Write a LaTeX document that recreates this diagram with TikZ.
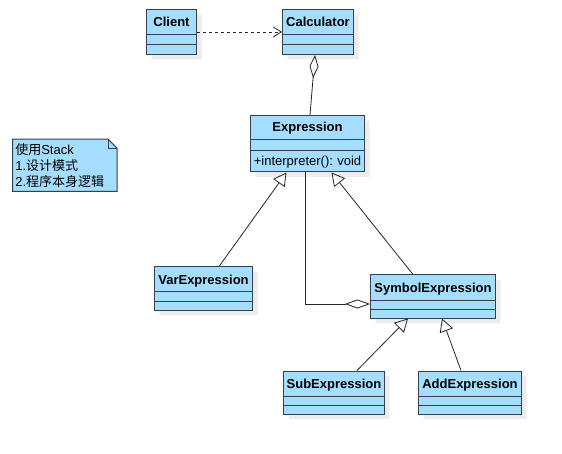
\documentclass[tikz,border=0pt]{standalone}
\usepackage{fontspec}
\setmainfont{Liberation Sans}
\newfontfamily\cjk{Noto Sans CJK SC}
\usetikzlibrary{arrows.meta,positioning,shapes.multipart,shadows,backgrounds}
\definecolor{classfill}{RGB}{164,221,253}
\definecolor{classline}{RGB}{52,64,76}
\definecolor{shadowgray}{RGB}{236,236,236}
\newcommand{\hdstrut}{\rule[-7.5pt]{0pt}{24pt}}
\newcommand{\rowstrut}{\rule{0pt}{9pt}}
\newcommand{\lowstrut}{\rule{0pt}{8pt}}

\begin{document}
\begin{tikzpicture}[x=1pt,y=-1pt,>={Straight Barb[length=8pt,width=10pt]},
  class node/.style={rectangle split,rectangle split parts=3,draw=classline,fill=classfill,line width=1pt,inner xsep=0pt,inner ysep=0pt,align=center,font=\fontsize{13}{15}\selectfont\frenchspacing,drop shadow={shadow xshift=5pt,shadow yshift=-5pt,fill=shadowgray,opacity=1}},
  note node/.style={text width=99pt,minimum height=52pt,inner xsep=2.5pt,align=left,font=\fontsize{13}{16}\selectfont},
  conn/.style={draw=black!85,line width=0.8pt},
  inherit/.style={conn,-{Triangle[open,length=13pt,width=14pt]}}]

  \useasboundingbox (0,0) rectangle (562,454);

  \node[class node,text width=50pt,anchor=north west] (client) at (146,9) {\hdstrut\textbf{Client}\nodepart{two}\rowstrut\nodepart{three}\rowstrut};
  \node[class node,text width=71pt] (calc) [right=85pt of client] {\hdstrut\textbf{Calculator}\nodepart{two}\rowstrut\nodepart{three}\rowstrut};
  \node[class node,text width=114pt] (expr) [below=60pt of calc,xshift=-10.5pt] {\rule[-7.5pt]{0pt}{23pt}\textbf{Expression}\nodepart{two}\rule{0pt}{10pt}\nodepart{three}\rule[-6pt]{0pt}{20.5pt}+interpreter(): void};
  \node[class node,text width=98pt] (var) [below=94pt of expr,xshift=-104pt] {\hdstrut\textbf{VarExpression}\nodepart{two}\lowstrut\nodepart{three}\lowstrut};
  \node[class node,text width=125pt] (sym) [below=102pt of expr,xshift=125.5pt] {\hdstrut\textbf{SymbolExpression}\nodepart{two}\lowstrut\nodepart{three}\lowstrut};
  \node[class node,text width=101pt] (sub) [below=52pt of sym,xshift=-99pt] {\hdstrut\textbf{SubExpression}\nodepart{two}\lowstrut\nodepart{three}\lowstrut};
  \node[class node,text width=103pt] (add) [right=33pt of sub] {\hdstrut\textbf{AddExpression}\nodepart{two}\lowstrut\nodepart{three}\lowstrut};

  % note with folded corner
  \node[note node] (note) [left=133pt of expr,yshift=-21.5pt] {{\cjk 使用}Stack\\1.{\cjk 设计模式}\\2.{\cjk 程序本身逻辑}};
  \begin{scope}[on background layer]
    \draw[classline,fill=classfill,line width=1pt] (note.north west) -- ([xshift=-9pt]note.north east) -- ([yshift=-9pt]note.north east) -- (note.south east) -- (note.south west) -- cycle;
    \draw[classline,line width=1pt] ([xshift=-9pt]note.north east) -- ([xshift=-9pt,yshift=-9pt]note.north east) -- ([yshift=-9pt]note.north east);
  \end{scope}

  \draw[conn,dash pattern=on 3pt off 3pt,->] (client) -- (calc);
  \draw[conn,{Diamond[open,length=23pt,width=9pt]}-] ([xshift=-3pt]calc.south) -- ([xshift=2.5pt]expr.north);

  \draw[inherit] ([xshift=15.5pt]var.north) -- ([xshift=-21pt]expr.south);
  \draw[inherit] ([xshift=-20pt]sym.north) -- ([xshift=24pt]expr.south);
  \draw[inherit] ([xshift=23pt]sub.north) -- ([xshift=-25pt]sym.south);
  \draw[inherit] ([xshift=-9pt]add.north) -- ([xshift=9pt]sym.south);

  \draw[conn,-{Diamond[open,length=25pt,width=9pt]}] ([xshift=-2pt]expr.south) |- ([yshift=-7.5pt]sym.west);
\end{tikzpicture}
\end{document}
